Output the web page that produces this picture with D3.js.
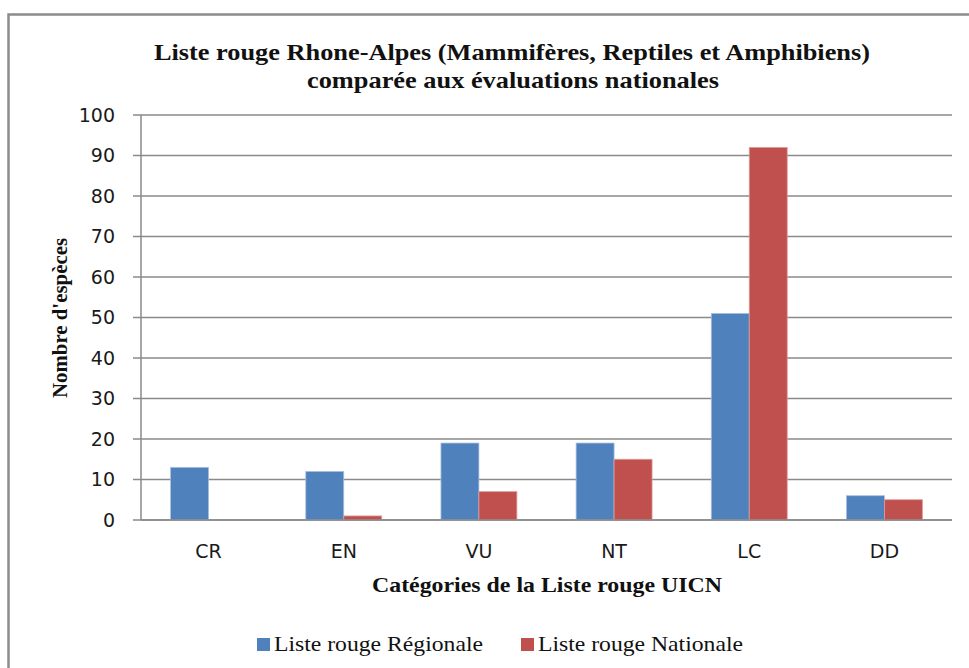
<!DOCTYPE html>
<html>
<head>
<meta charset="utf-8">
<script src="https://cdn.jsdelivr.net/npm/d3@7"></script>
<style>
  body { margin: 0; background: #fff; }
</style>
</head>
<body>
<div id="chart"></div>
<script>
// Données
const categories = ["CR", "EN", "VU", "NT", "LC", "DD"];
const series = ["Liste rouge Régionale", "Liste rouge Nationale"];
const regionale = [13, 12, 19, 19, 51, 6];
const nationale = [0, 1, 7, 15, 92, 5];
const yTicks = [0, 10, 20, 30, 40, 50, 60, 70, 80, 90, 100];
const colors = ["#4F81BD", "#C0504D"];

const W = 969, H = 668;
const margin = {top: 115, right: 17, bottom: 148, left: 141},
    width = W - margin.left - margin.right,
    height = H - margin.top - margin.bottom;

const svg = d3.select("#chart")
  .append("svg")
  .attr("width", W)
  .attr("height", H);

// Cadre extérieur
svg.append("path")
  .attr("d", `M8.5,${H} V14.5 H${W}`)
  .attr("fill", "none")
  .attr("stroke", "#8c8c8c")
  .attr("stroke-width", 2.5);

const g = svg.append("g")
  .attr("transform", `translate(${margin.left},${margin.top})`);

// Échelles
const x0 = d3.scaleBand()
  .domain(categories)
  .range([0, width])
  .padding(0);

const x1 = d3.scaleBand()
  .domain(series)
  .range([0, x0.bandwidth()])
  .paddingInner(0)
  .paddingOuter(0.78);

const y = d3.scaleLinear()
  .domain([0, 100])
  .range([height, 0]);

// Grille
g.append("g")
  .selectAll("line")
  .data(yTicks)
  .join("line")
  .attr("x1", -8)
  .attr("x2", width)
  .attr("y1", d => y(d))
  .attr("y2", d => y(d))
  .attr("stroke", "#8a8a8a")
  .attr("stroke-width", 1.5);

// Axe Y
g.append("line")
  .attr("x1", 0).attr("x2", 0)
  .attr("y1", 0).attr("y2", height)
  .attr("stroke", "#8a8a8a")
  .attr("stroke-width", 1.5);

g.append("g")
  .selectAll("text")
  .data(yTicks)
  .join("text")
  .attr("x", -26)
  .attr("y", d => y(d))
  .attr("dy", "0.35em")
  .attr("text-anchor", "end")
  .attr("font-family", "DejaVu Sans")
  .attr("font-size", 19)
  .attr("fill", "#1a1a1a")
  .text(d => d);

// Barres
const rows = categories.map((c, i) => ({cat: c, values: [regionale[i], nationale[i]]}));

g.append("g")
  .selectAll("g")
  .data(rows)
  .join("g")
  .attr("transform", d => `translate(${x0(d.cat)},0)`)
  .selectAll("rect")
  .data(d => d.values.map((v, j) => ({key: series[j], value: v, j})))
  .join("rect")
  .attr("x", d => x1(d.key))
  .attr("y", d => y(d.value))
  .attr("width", x1.bandwidth())
  .attr("height", d => y(0) - y(d.value))
  .attr("fill", d => colors[d.j])
  .attr("stroke", d => d.j === 0 ? "#a9bfdc" : "#dc9c9a")
  .attr("stroke-width", 0.8);

// Axe X (ligne de base)
g.append("line")
  .attr("x1", 0).attr("x2", width)
  .attr("y1", height).attr("y2", height)
  .attr("stroke", "#8a8a8a")
  .attr("stroke-width", 1.5);

// Étiquettes de catégories
g.append("g")
  .selectAll("text")
  .data(categories)
  .join("text")
  .attr("x", d => x0(d) + x0.bandwidth() / 2)
  .attr("y", height + 38)
  .attr("text-anchor", "middle")
  .attr("font-family", "DejaVu Sans")
  .attr("font-size", 19)
  .attr("fill", "#1a1a1a")
  .text(d => d);

// Titre
const title = svg.append("text")
  .attr("text-anchor", "middle")
  .attr("font-family", "Liberation Serif")
  .attr("font-weight", "bold")
  .attr("font-size", 24)
  .attr("fill", "#111");
title.append("tspan").attr("x", 512).attr("y", 60)
  .attr("textLength", 716).attr("lengthAdjust", "spacingAndGlyphs")
  .text("Liste rouge Rhone-Alpes (Mammifères, Reptiles et Amphibiens)");
title.append("tspan").attr("x", 513).attr("y", 88)
  .attr("textLength", 412).attr("lengthAdjust", "spacingAndGlyphs")
  .text("comparée aux évaluations nationales");

// Titre axe Y
svg.append("text")
  .attr("transform", `translate(67,318) rotate(-90)`)
  .attr("text-anchor", "middle")
  .attr("font-family", "Liberation Serif")
  .attr("font-weight", "bold")
  .attr("font-size", 21)
  .attr("textLength", 160)
  .attr("lengthAdjust", "spacingAndGlyphs")
  .attr("fill", "#111")
  .text("Nombre d'espèces");

// Titre axe X
svg.append("text")
  .attr("x", 547)
  .attr("y", 592)
  .attr("text-anchor", "middle")
  .attr("font-family", "Liberation Serif")
  .attr("font-weight", "bold")
  .attr("font-size", 21)
  .attr("textLength", 350)
  .attr("lengthAdjust", "spacingAndGlyphs")
  .attr("fill", "#111")
  .text("Catégories de la Liste rouge UICN");

// Légende
const legendX = [257, 521];
const legendW = [209, 205];
const legend = svg.append("g")
  .selectAll("g")
  .data(series)
  .join("g")
  .attr("transform", (d, i) => `translate(${legendX[i]},638)`);

legend.append("rect")
  .attr("width", 13)
  .attr("height", 13)
  .attr("fill", (d, i) => colors[i]);

legend.append("text")
  .attr("x", 17)
  .attr("y", 13)
  .attr("font-family", "Liberation Serif")
  .attr("font-size", 21)
  .attr("textLength", (d, i) => legendW[i])
  .attr("lengthAdjust", "spacingAndGlyphs")
  .attr("fill", "#111")
  .text(d => d);
</script>
</body>
</html>
